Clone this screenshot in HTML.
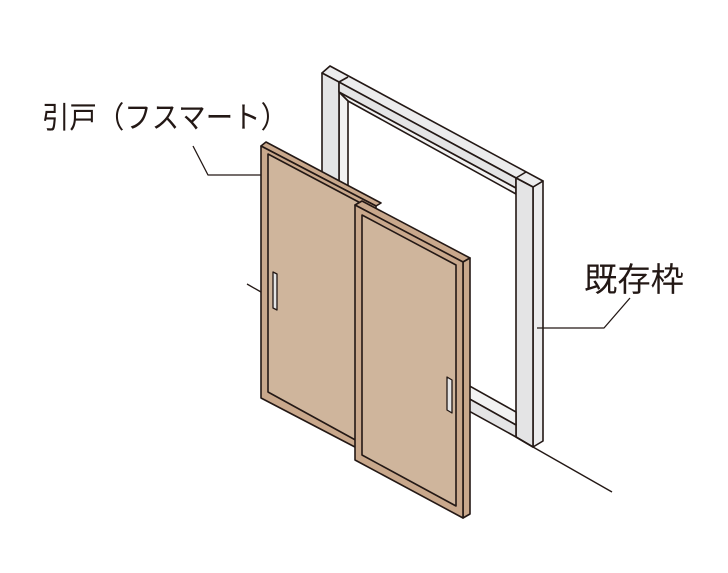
<!DOCTYPE html>
<html><head><meta charset="utf-8"><style>
html,body{margin:0;padding:0;background:#fff;}
svg{display:block;}
text{font-family:"Liberation Sans","Noto Sans CJK JP",sans-serif;fill:#231815;}
</style></head><body>
<svg width="728" height="573" viewBox="0 0 728 573" xmlns="http://www.w3.org/2000/svg">
<g stroke="#231815" stroke-width="1.6" stroke-linejoin="round">
<!-- frame -->
<polygon points="533,187 543,181 543,441 533,447" fill="#ececed"/>
<polygon points="322,73 330,66 543,181 533,187" fill="#ececed"/>
<polygon points="339,92 516,188 516,194 348,101" fill="#f2f2f2"/>
<polygon points="339,92 348,101 348,400 339,400" fill="#f2f2f2"/>
<polygon points="322,73 339,82 339,400 322,390" fill="#e4e4e5"/>
<polygon points="339,82 516,178 516,188 339,92" fill="#e4e4e5"/>
<polygon points="516,178 533,187 533,447 516,437" fill="#e4e4e5"/>
<line x1="339" y1="82" x2="348" y2="77"/>
<line x1="516" y1="178" x2="526" y2="172"/>
<!-- sill -->
<polygon points="400,347 516,412 516,425 400,360" fill="#f2f2f2"/>
<polygon points="400,360 516,425 516,437 400,373" fill="#e4e4e5"/>
<line x1="516" y1="437" x2="533" y2="447"/>
<line x1="533" y1="447" x2="612" y2="492" stroke-width="1.4"/>
<!-- back door -->
<polygon points="261,146 266,142 381,203 376,206" fill="#c9a88c"/>
<polygon points="261,146 376,206 376,458 261,398" fill="#c9a88c"/>
<polygon points="268,154 370,208 370,448 268,392" fill="#cfb59c"/>
<polygon points="273,272 277,274 277,310 273,308" fill="#e4e4e5" stroke-width="1.3"/>
<!-- front door -->
<polygon points="355,205 362,201 470,258 463,262" fill="#c9a88c"/>
<polygon points="463,262 470,258 470,514 463,518" fill="#c9a88c"/>
<polygon points="355,205 463,262 463,518 355,460" fill="#c9a88c"/>
<polygon points="362,215 456,265 456,506 362,455" fill="#cfb59c"/>
<polygon points="447,377 452,380 452,413 447,410" fill="#e4e4e5" stroke-width="1.3"/>
<!-- leaders -->
<polyline points="193,146 208,175 261,175" fill="none" stroke-width="1.3"/>
<line x1="247" y1="284" x2="261" y2="292" stroke-width="1.3"/>
<polyline points="630,298 604,328 537,328" fill="none" stroke-width="1.3"/>
</g>
<text x="42" y="128" font-size="30" textLength="246" lengthAdjust="spacingAndGlyphs">引戸（フスマート）</text>
<text x="584" y="291" font-size="33" textLength="100" lengthAdjust="spacingAndGlyphs">既存枠</text>
</svg>
</body></html>
